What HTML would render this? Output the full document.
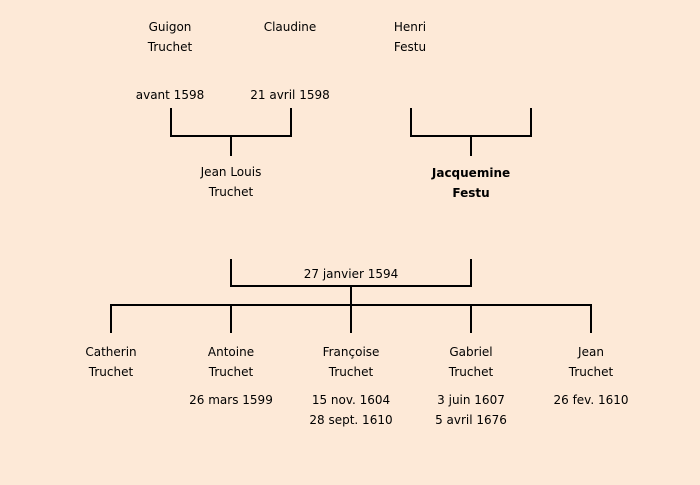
<!DOCTYPE html>
<html><head><style>
html,body{margin:0;padding:0}
body{width:700px;height:485px;background:#fde9d7;position:relative;overflow:hidden;font-family:"Comic Sans MS","DejaVu Sans",sans-serif;font-size:12px;color:#000}
.t{position:absolute;width:160px;margin-left:-80px;text-align:center;line-height:20px;white-space:nowrap}
svg{position:absolute;left:0;top:0}
</style></head><body>
<svg width="700" height="485" stroke="#000" stroke-width="2" fill="none">
<path d="M171 108V136H291V108M231 136V156"/>
<path d="M411 108V136H531V108M471 136V156"/>
<path d="M231 259V286H471V259M351 286V305"/>
<path d="M111 333V305H591V333M231 305V333M351 305V333M471 305V333"/>
</svg>
<div class="t" style="left:170px;top:17px">Guigon<br>Truchet</div>
<div class="t" style="left:290px;top:17px">Claudine</div>
<div class="t" style="left:410px;top:17px">Henri<br>Festu</div>
<div class="t" style="left:170px;top:85px">avant 1598</div>
<div class="t" style="left:290px;top:85px">21 avril 1598</div>
<div class="t" style="left:231px;top:162px">Jean Louis<br>Truchet</div>
<div class="t" style="left:471px;top:163px;font-weight:bold">Jacquemine<br>Festu</div>
<div class="t" style="left:351px;top:264px">27 janvier 1594</div>
<div class="t" style="left:111px;top:342px">Catherin<br>Truchet</div>
<div class="t" style="left:231px;top:342px">Antoine<br>Truchet</div>
<div class="t" style="left:351px;top:342px">Françoise<br>Truchet</div>
<div class="t" style="left:471px;top:342px">Gabriel<br>Truchet</div>
<div class="t" style="left:591px;top:342px">Jean<br>Truchet</div>
<div class="t" style="left:231px;top:390px">26 mars 1599</div>
<div class="t" style="left:351px;top:390px">15 nov. 1604<br>28 sept. 1610</div>
<div class="t" style="left:471px;top:390px">3 juin 1607<br>5 avril 1676</div>
<div class="t" style="left:591px;top:390px">26 fev. 1610</div>
</body></html>
